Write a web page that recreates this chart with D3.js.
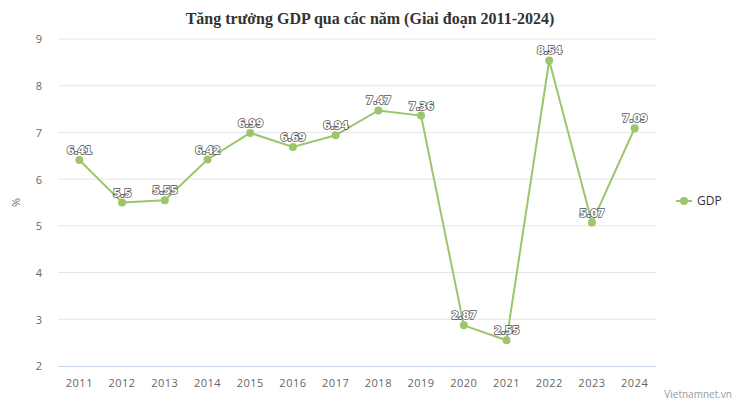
<!DOCTYPE html>
<html><head><meta charset="utf-8">
<script src="https://cdn.jsdelivr.net/npm/d3@7"></script>
<style>body{margin:0;background:#fff}</style>
</head><body>
<svg id="c" width="739" height="411"></svg>
<script>
const years = ["2011","2012","2013","2014","2015","2016","2017","2018","2019","2020","2021","2022","2023","2024"];
const gdp = [6.41,5.5,5.55,6.42,6.99,6.69,6.94,7.47,7.36,2.87,2.55,8.54,5.07,7.09];
const yTicks = [2,3,4,5,6,7,8,9];
const seriesName = "GDP";
const title = "Tăng trưởng GDP qua các năm (Giai đoạn 2011-2024)";
const yLabel = "%";
const credit = "Vietnamnet.vn";

(function(){
const svg = d3.select("#c");
const pL = 58, pR = 656, pT = 39, pB = 366;
const x = d3.scaleBand().domain(years).range([pL, pR]);
const y = d3.scaleLinear().domain([2, 9]).range([pB, pT]);
const green = "#9cc56c";

svg.append("text").attr("x", 370).attr("y", 24).attr("text-anchor", "middle")
  .attr("font-family", "Liberation Serif, Times New Roman, serif").attr("font-weight", "bold")
  .attr("font-size", 16).attr("fill", "#333").text(title);

svg.append("g").selectAll("line").data(yTicks.filter(d => d !== 2)).join("line")
  .attr("x1", pL).attr("x2", pR).attr("y1", d => y(d)).attr("y2", d => y(d))
  .attr("stroke", "#e6e6e6").attr("stroke-width", 1);
svg.append("line").attr("x1", pL).attr("x2", pR).attr("y1", y(2)+0.5).attr("y2", y(2)+0.5)
  .attr("stroke", "#ccd6eb");

const font = "Open Sans, Noto Sans, sans-serif";
const yAxis = d3.axisLeft(y).tickValues(yTicks).tickSize(0).tickPadding(0).tickFormat(d3.format("d"));
const gy = svg.append("g").attr("transform", `translate(${pL-15},0)`).call(yAxis);
gy.select(".domain").remove();
gy.selectAll("text").attr("font-family", font).attr("font-size", 11).attr("fill", "#666")
  .attr("text-anchor", "middle").attr("dy", "0.35em").attr("x", -4);

const xAxis = d3.axisBottom(x).tickSize(0).tickPadding(0);
const gx = svg.append("g").attr("transform", `translate(0,${pB})`).call(xAxis);
gx.select(".domain").remove();
gx.selectAll("text").attr("font-family", font).attr("font-size", 11).attr("fill", "#666")
  .attr("letter-spacing", "0.5px").attr("y", 21).attr("dy", 0);

svg.append("text").attr("transform", `translate(20,${(pT+pB)/2}) rotate(-90)`)
  .attr("text-anchor", "middle").attr("font-family", font).attr("font-size", 11).attr("fill", "#666").text(yLabel);

const cx = d => x(d) + x.bandwidth()/2;
const line = d3.line().x((d,i) => cx(years[i])).y(d => y(d));
svg.append("path").datum(gdp).attr("d", line).attr("fill", "none").attr("stroke", green)
  .attr("stroke-width", 2);
svg.append("g").selectAll("circle").data(gdp).join("circle")
  .attr("cx", (d,i) => cx(years[i])).attr("cy", d => y(d)).attr("r", 4).attr("fill", green);

svg.append("g").selectAll("text").data(gdp).join("text")
  .attr("x", (d,i) => cx(years[i])).attr("y", d => y(d) - 6)
  .attr("text-anchor", "middle").attr("font-family", "DejaVu Sans, sans-serif").attr("font-weight", "bold")
  .attr("font-size", 11).attr("fill", "#ffffff").attr("stroke", "#555").attr("stroke-width", 1.5)
  .attr("paint-order", "stroke").attr("letter-spacing", "-0.5px").text(d => d);

const lg = svg.append("g").attr("transform", "translate(676,201)");
lg.append("line").attr("x1", 0).attr("x2", 16).attr("stroke", green).attr("stroke-width", 2);
lg.append("circle").attr("cx", 8).attr("r", 4).attr("fill", green);
lg.append("text").attr("x", 21).attr("dy", "0.35em").attr("font-family", font).attr("font-size", 12)
  .attr("fill", "#333").text(seriesName);

svg.append("text").attr("x", 732).attr("y", 398).attr("text-anchor", "end").attr("font-family", font)
  .attr("font-size", 10).attr("fill", "#999").text(credit);
})();
</script>
</body></html>
